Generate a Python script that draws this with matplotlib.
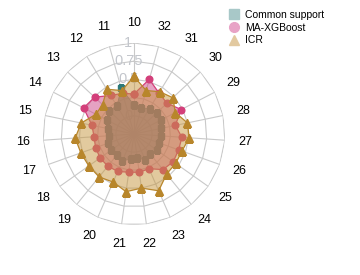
import numpy as np
import matplotlib
matplotlib.use("Agg")
import matplotlib.pyplot as plt
from matplotlib.lines import Line2D

# --- DATA ---
categories = [str(c) for c in range(10, 33)]
common_support = [0.15, 0.40, 0.20, 0.22, 0.16, 0.12, 0.10, 0.13, 0.13, 0.12, 0.15, 0.10,
                  0.08, 0.14, 0.10, 0.14, 0.12, 0.12, 0.13, 0.17, 0.18, 0.16, 0.12]
ma_xgboost = [0.30, 0.33, 0.37, 0.49, 0.53, 0.34, 0.30, 0.31, 0.32, 0.32, 0.31, 0.28,
              0.28, 0.27, 0.38, 0.41, 0.40, 0.41, 0.33, 0.48, 0.37, 0.41, 0.53]
icr = [0.54, 0.37, 0.47, 0.34, 0.34, 0.49, 0.56, 0.525, 0.51, 0.51, 0.47, 0.55,
       0.50, 0.60, 0.46, 0.45, 0.45, 0.51, 0.50, 0.39, 0.48, 0.43, 0.37]
r_levels = [0, 0.25, 0.5, 0.75, 1]
r_labels = {0: "0", 0.5: "0.5", 0.75: "0.75", 1: "1"}
series_names = ["Common support", "MA-XGBoost", "ICR"]

plt.rcParams["font.family"] = ["Liberation Sans", "DejaVu Sans"]

fig = plt.figure(figsize=(3.6, 2.75), dpi=100)
ax = fig.add_axes([0.1194, 0.1818, 0.5056, 0.6618], projection="polar")
ax.set_theta_offset(np.pi / 2)
ax.set_ylim(-0.25, 1)
ax.grid(False)
ax.spines["polar"].set_visible(False)
ax.set_xticks([])
ax.set_yticks([])
ax.patch.set_alpha(0)

n = len(categories)
angles = np.linspace(0, 2 * np.pi, n, endpoint=False)
closed = np.append(angles, angles[0])


def close(vals):
    return np.append(vals, vals[0])


# spider web grid
grid_col = "#c9c9c9"
for lvl in r_levels:
    ax.plot(closed, [lvl] * (n + 1), color=grid_col, lw=0.8, zorder=0)
for a in angles:
    ax.plot([a, a], [-0.25, 1], color=grid_col, lw=0.8, zorder=0)

# radial labels
for lvl, txt in r_labels.items():
    ax.annotate(txt, xy=(0, lvl), xytext=(-4, 0), textcoords="offset points",
                ha="center", va="center", color="#c3c6cc", fontsize=10.5, zorder=1)

# category labels
for a, cat in zip(angles, categories):
    ax.text(a, 1.28, cat, ha="center", va="center", fontsize=9, color="black")

# series: common support first, then MA-XGBoost, then ICR
ax.fill(closed, close(common_support), color="#3f8f8f", alpha=0.7, lw=0, zorder=2)
ax.plot(closed, close(common_support), color="#3f8f8f", lw=0.6, marker="s",
        markersize=5, markerfacecolor="#2c7a7a", markeredgecolor="#2c7a7a",
        zorder=2.1)

ax.fill(closed, close(ma_xgboost), color="#cd4787", alpha=0.5, lw=0, zorder=3)
ax.plot(closed, close(ma_xgboost), color="#d33f7a", lw=0.9, marker="o",
        markersize=4.8, zorder=3.1)

ax.fill(closed, close(icr), color="#c6963e", alpha=0.5, lw=0, zorder=4)
ax.plot(closed, close(icr), color="#b8862b", lw=0.9, marker="^",
        markersize=5.8, zorder=4.1)

handles = [
    Line2D([], [], ls="none", marker="s", markersize=6.5, color="#a8c8c8"),
    Line2D([], [], ls="none", marker="o", markersize=7, color="#e8a3c6"),
    Line2D([], [], ls="none", marker="^", markersize=7.5, color="#e2c9a0"),
]
fig.legend(handles, series_names, loc="upper left",
           bbox_to_anchor=(229 / 360, 1 - 10 / 275), frameon=False,
           fontsize=7.5, handlelength=1.0, handletextpad=0.5,
           labelspacing=0.25, borderpad=0, borderaxespad=0)

fig.savefig("out.png", dpi=100)
